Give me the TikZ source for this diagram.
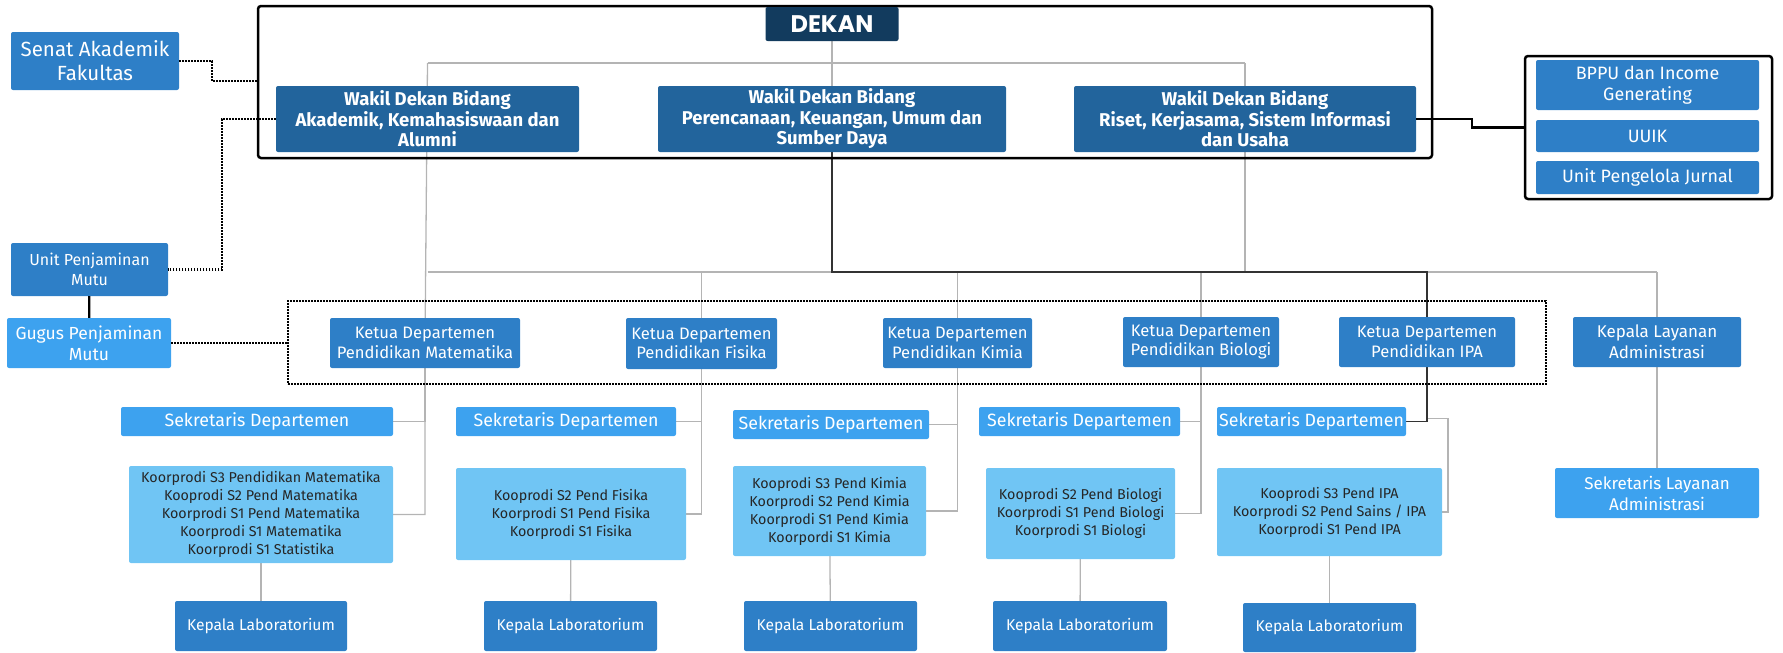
\documentclass[tikz,border=0pt]{standalone}
\usepackage{fontspec}
\setmainfont{Fira Sans}
\newfontfamily\dekanfont{Poppins}
\usetikzlibrary{backgrounds}
\definecolor{dekanblue}{HTML}{123B5E}
\definecolor{wakilblue}{HTML}{22649C}
\definecolor{unitblue}{HTML}{2E7FC7}
\definecolor{sekblue}{HTML}{3DA2EF}
\definecolor{koorblue}{HTML}{70C5F4}
\definecolor{linegray}{HTML}{B4B4B4}
\tikzset{
  box/.style={rectangle, rounded corners=2pt, inner sep=0pt, align=center, text=white},
  dekanbox/.style={box, fill=dekanblue, font=\dekanfont\bfseries\fontsize{24}{28}\selectfont},
  wakilbox/.style={box, fill=wakilblue, font=\bfseries\fontsize{18.5}{20.5}\selectfont},
  unitbox/.style={box, fill=unitblue, font=\fontsize{16}{19.5}\selectfont},
  ketuabox/.style={box, fill=unitblue, font=\fontsize{16.6}{19.5}\selectfont},
  sekbox/.style={box, fill=sekblue, font=\fontsize{17.8}{21}\selectfont},
  koorbox/.style={box, fill=koorblue, text=black!85, font=\fontsize{14.3}{18}\selectfont},
  labbox/.style={box, fill=unitblue, font=\fontsize{15.6}{18}\selectfont},
  groupframe/.style={rectangle, draw=black, line width=2.5pt, rounded corners=3pt, inner sep=0pt},
  dotframe/.style={rectangle, draw=black, line width=2pt, dash pattern=on 1.6pt off 1.4pt, inner sep=0pt},
  conn/.style={draw=linegray, line width=1.3pt},
  darkconn/.style={draw=black!80, line width=1.8pt},
  dotline/.style={draw=black, line width=2.2pt, dash pattern=on 1.6pt off 1.4pt},
  solidline/.style={draw=black, line width=2.2pt}
}
\begin{document}
\begin{tikzpicture}[x=1pt, y=-1pt]
    \useasboundingbox (0,0) rectangle (1783,653);
    % Pimpinan fakultas
    \node[groupframe, minimum width=1174, minimum height=152] (pimpinan) at (845,82) {};
    \node[dekanbox, minimum width=133, minimum height=34] (dekan) at (832,24) {DEKAN};
    \node[wakilbox, minimum width=303, minimum height=66] (w1) at (427.5,119) {Wakil Dekan Bidang\\Akademik, Kemahasiswaan dan\\Alumni};
    \node[wakilbox, minimum width=348, minimum height=66] (w2) at (832,119) {Wakil Dekan Bidang\\Perencanaan, Keuangan, Umum dan\\Sumber Daya};
    \node[wakilbox, minimum width=342, minimum height=66] (w3) at (1245,119) {Wakil Dekan Bidang\\Riset, Kerjasama, Sistem Informasi\\dan Usaha};
    % Unit di kiri
    \node[unitbox, font=\fontsize{20.5}{24}\selectfont, minimum width=168, minimum height=58] (senat) at (95,61) {Senat Akademik\\Fakultas};
    \node[unitbox, minimum width=157, minimum height=53] (upm) at (89.5,269.5) {Unit Penjaminan\\Mutu};
    \node[sekbox, font=\fontsize{17.5}{21}\selectfont, minimum width=164, minimum height=50] (gugus) at (89,343) {Gugus Penjaminan\\Mutu};
    % Unit di kanan
    \node[groupframe, minimum width=247, minimum height=143] (unitkanan) at (1648.5,127.5) {};
    \node[unitbox, font=\fontsize{17.9}{21}\selectfont, minimum width=223, minimum height=50] (bppu) at (1647.5,85) {BPPU dan Income\\Generating};
    \node[unitbox, font=\fontsize{17.9}{21}\selectfont, minimum width=223, minimum height=32] (uuik) at (1647.5,136) {UUIK};
    \node[unitbox, font=\fontsize{17.9}{21}\selectfont, minimum width=223, minimum height=33] (jurnal) at (1647.5,177.5) {Unit Pengelola Jurnal};
    % Ketua departemen
    \node[dotframe, minimum width=1258, minimum height=83] (ketuaframe) at (917,342.5) {};
    \node[ketuabox, minimum width=190, minimum height=50] (kmat) at (425,343) {Ketua Departemen\\Pendidikan Matematika};
    \node[ketuabox, minimum width=151, minimum height=51] (kfis) at (701.5,343.5) {Ketua Departemen\\Pendidikan Fisika};
    \node[ketuabox, minimum width=149, minimum height=50] (kkim) at (957.5,343) {Ketua Departemen\\Pendidikan Kimia};
    \node[ketuabox, minimum width=156, minimum height=50] (kbio) at (1201,342) {Ketua Departemen\\Pendidikan Biologi};
    \node[ketuabox, minimum width=176, minimum height=50] (kipa) at (1427,342) {Ketua Departemen\\Pendidikan IPA};
    \node[unitbox, font=\fontsize{17}{21}\selectfont, minimum width=168, minimum height=50] (klay) at (1657,342) {Kepala Layanan\\Administrasi};
    % Sekretaris
    \node[sekbox, minimum width=272, minimum height=29] (smat) at (257,421.5) {Sekretaris Departemen};
    \node[sekbox, minimum width=220, minimum height=29] (sfis) at (566,421.5) {Sekretaris Departemen};
    \node[sekbox, minimum width=196, minimum height=29] (skim) at (831,424.5) {Sekretaris Departemen};
    \node[sekbox, minimum width=201, minimum height=29] (sbio) at (1079.5,421.5) {Sekretaris Departemen};
    \node[sekbox, minimum width=189, minimum height=29] (sipa) at (1311.5,421.5) {Sekretaris Departemen};
    \node[sekbox, font=\fontsize{17}{21}\selectfont, minimum width=204, minimum height=50] (slay) at (1657,493) {Sekretaris Layanan\\Administrasi};
    % Koorprodi
    \node[koorbox, minimum width=264, minimum height=97] (kpmat) at (261,514.5) {Koorprodi S3 Pendidikan Matematika\\Kooprodi S2 Pend Matematika\\Koorprodi S1 Pend Matematika\\Koorprodi S1 Matematika\\Koorprodi S1 Statistika};
    \node[koorbox, minimum width=230, minimum height=92] (kpfis) at (571,514) {Kooprodi S2 Pend Fisika\\Koorprodi S1 Pend Fisika\\Koorprodi S1 Fisika};
    \node[koorbox, minimum width=193, minimum height=90] (kpkim) at (829.5,511) {Kooprodi S3 Pend Kimia\\Koorprodi S2 Pend Kimia\\Koorprodi S1 Pend Kimia\\Koorpordi S1 Kimia};
    \node[koorbox, minimum width=189, minimum height=91] (kpbio) at (1080.5,513.5) {Kooprodi S2 Pend Biologi\\Koorprodi S1 Pend Biologi\\Koorprodi S1 Biologi};
    \node[koorbox, minimum width=225, minimum height=88] (kpipa) at (1329.5,512) {Kooprodi S3 Pend IPA\\Koorprodi S2 Pend Sains / IPA\\Koorprodi S1 Pend IPA};
    % Kepala laboratorium
    \node[labbox, minimum width=172, minimum height=50] (labmat) at (261,626) {Kepala Laboratorium};
    \node[labbox, minimum width=173, minimum height=50] (labfis) at (570.5,626) {Kepala Laboratorium};
    \node[labbox, minimum width=173, minimum height=50] (labkim) at (830.5,626) {Kepala Laboratorium};
    \node[labbox, minimum width=174, minimum height=50] (labbio) at (1080,626) {Kepala Laboratorium};
    \node[labbox, minimum width=173, minimum height=49] (labipa) at (1329.5,627.5) {Kepala Laboratorium};
    \coordinate (bar1) at (832,63);
    \coordinate (bar2) at (832,272);
    \begin{scope}[on background layer]
    \draw[conn] (dekan) -- (w2); % dekan ke wakil 2
    \draw[conn] (w1 |- bar1) -- (w3 |- bar1); % garis atas
    \draw[conn] (w1 |- bar1) -- (kmat.center) |- (kpmat.east); % jalur matematika
    \draw[conn] (w3 |- bar1) -- (w3 |- bar2);
    \draw[conn] (w1 |- bar2) -- (klay |- bar2); % garis tengah
    \draw[conn] (klay |- bar2) -- (slay.north);
    \draw[conn] (kmat) |- (smat.east);
    \draw[conn] (kfis |- bar2) -- (kfis.center) |- (kpfis.east); % jalur fisika
    \draw[conn] (kfis) |- (sfis.east);
    \draw[conn] (kkim |- bar2) -- (kkim.center) |- (kpkim.east); % jalur kimia
    \draw[conn] (kkim) |- (skim.east);
    \draw[conn] (kbio |- bar2) -- (kbio.center) |- (kpbio.east); % jalur biologi
    \draw[conn] (kbio) |- (sbio.east);
    \draw[conn] (kipa |- sipa.east) ++(0,-3) -- ++(21,0) |- (kpipa.east); % jalur ipa
    \draw[darkconn] (w2.south) -- (w2 |- bar2) -- (kipa |- bar2) -- (kipa |- sipa.east) -- (sipa.east);
    \draw[conn] (kpmat) -- (labmat);
    \draw[conn] (kpfis) -- (labfis);
    \draw[conn] (kpkim) -- (labkim);
    \draw[conn] (kpbio) -- (labbio);
    \draw[conn] (kpipa) -- (labipa);
    \end{scope}
    % Garis putus-putus dan garis hitam
    \draw[dotline] (senat.east) -- ++(33,0) |- ([yshift=-20pt]senat.east -| pimpinan.west);
    \draw[dotline] (w1.west) -- ++(-54,0) |- (upm.east);
    \draw[dotline] (gugus.east) -- (gugus.east -| ketuaframe.west);
    \draw[solidline] (upm) -- (gugus);
    \draw[solidline] (w3.east) -- ++(56,0) |- (unitkanan.west);
\end{tikzpicture}
\end{document}
